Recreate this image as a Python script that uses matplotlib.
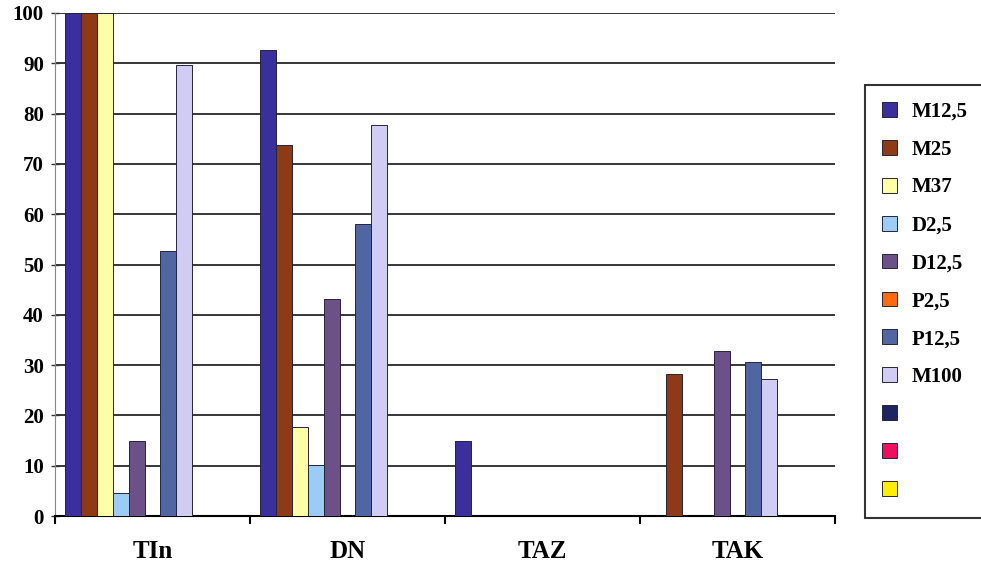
import numpy as np
import matplotlib
matplotlib.use("Agg")
import matplotlib.pyplot as plt
from matplotlib.ticker import MultipleLocator

# kategorie na osi x
kategorie = ["TIn", "DN", "TAZ", "TAK"]

# serie (wartosci dla TIn, DN, TAZ, TAK)
serie = ["M12,5", "M25", "M37", "D2,5", "D12,5", "P2,5", "P12,5", "M100",
         "\u00a0", "\u00a0\u00a0", "\u00a0\u00a0\u00a0"]
m12_5 = [100, 92.7, 15, 0]
m25 = [100, 73.7, 0, 28.2]
m37 = [100, 17.6, 0, 0]
d2_5 = [4.5, 10.2, 0, 0]
d12_5 = [15, 43.2, 0, 32.8]
p2_5 = [0, 0, 0, 0]
p12_5 = [52.7, 58, 0, 30.6]
m100 = [89.7, 77.7, 0, 27.3]
pusta1 = [0, 0, 0, 0]
pusta2 = [0, 0, 0, 0]
pusta3 = [0, 0, 0, 0]
wartosci = [m12_5, m25, m37, d2_5, d12_5, p2_5, p12_5, m100, pusta1, pusta2, pusta3]

kolory = ["#3a2f9c", "#8e3a17", "#ffffa8", "#9ccbf5", "#6c5088",
          "#ff6a10", "#4f66a3", "#d0ccf4", "#1c2560", "#ee1060", "#ffee00"]

plt.rcParams['font.family'] = ['Liberation Serif', 'DejaVu Serif']

fig = plt.figure(figsize=(9.81, 5.68), dpi=100)
ax = fig.add_axes([55/981, 1-516/568, (835-55)/981, (516-13)/568])

x = np.arange(len(kategorie))
szer = 0.082
n = len(serie)
for i in range(n):
    przes = (i - (n - 1) / 2) * szer
    ax.bar(x + przes, wartosci[i], width=szer, color=kolory[i],
           edgecolor="#26243a", linewidth=0.7, label=serie[i], zorder=3)

ax.set_ylim(0, 100)
ax.set_xlim(-0.5, 3.5)
ax.yaxis.set_major_locator(MultipleLocator(10))
ax.yaxis.grid(True, color="black", linewidth=1.1, zorder=0)
ax.set_axisbelow(True)

for s in ["top", "right"]:
    ax.spines[s].set_visible(False)
ax.spines["left"].set_color("#888888")
ax.spines["left"].set_linewidth(0.8)
ax.spines["bottom"].set_linewidth(1.5)

ax.set_xticks(x)
ax.set_xticklabels(kategorie, fontsize=18, fontweight="bold")
ax.tick_params(axis="x", which="major", length=0, pad=17)
ax.set_xticks(np.arange(-0.5, 4, 1), minor=True)
ax.tick_params(axis="x", which="minor", length=6, width=1.5, direction="out")
ax.tick_params(axis="y", length=6, width=1, color="#333333", direction="inout",
               labelsize=15, pad=5)
for t in ax.get_yticklabels():
    t.set_fontweight("bold")

leg = fig.legend(loc="upper left",
                 bbox_to_anchor=(865/981, 1-85/568 - 0.01, 200/981, 0.01),
                 mode="expand", borderaxespad=0, frameon=True, fancybox=False,
                 prop={"size": 15, "weight": "bold"},
                 handlelength=0.72, handleheight=0.72, handletextpad=0.72,
                 labelspacing=0.86, borderpad=0.8)
leg.get_frame().set_edgecolor("black")
leg.get_frame().set_linewidth(1.5)

fig.savefig("out.png", dpi=100)
